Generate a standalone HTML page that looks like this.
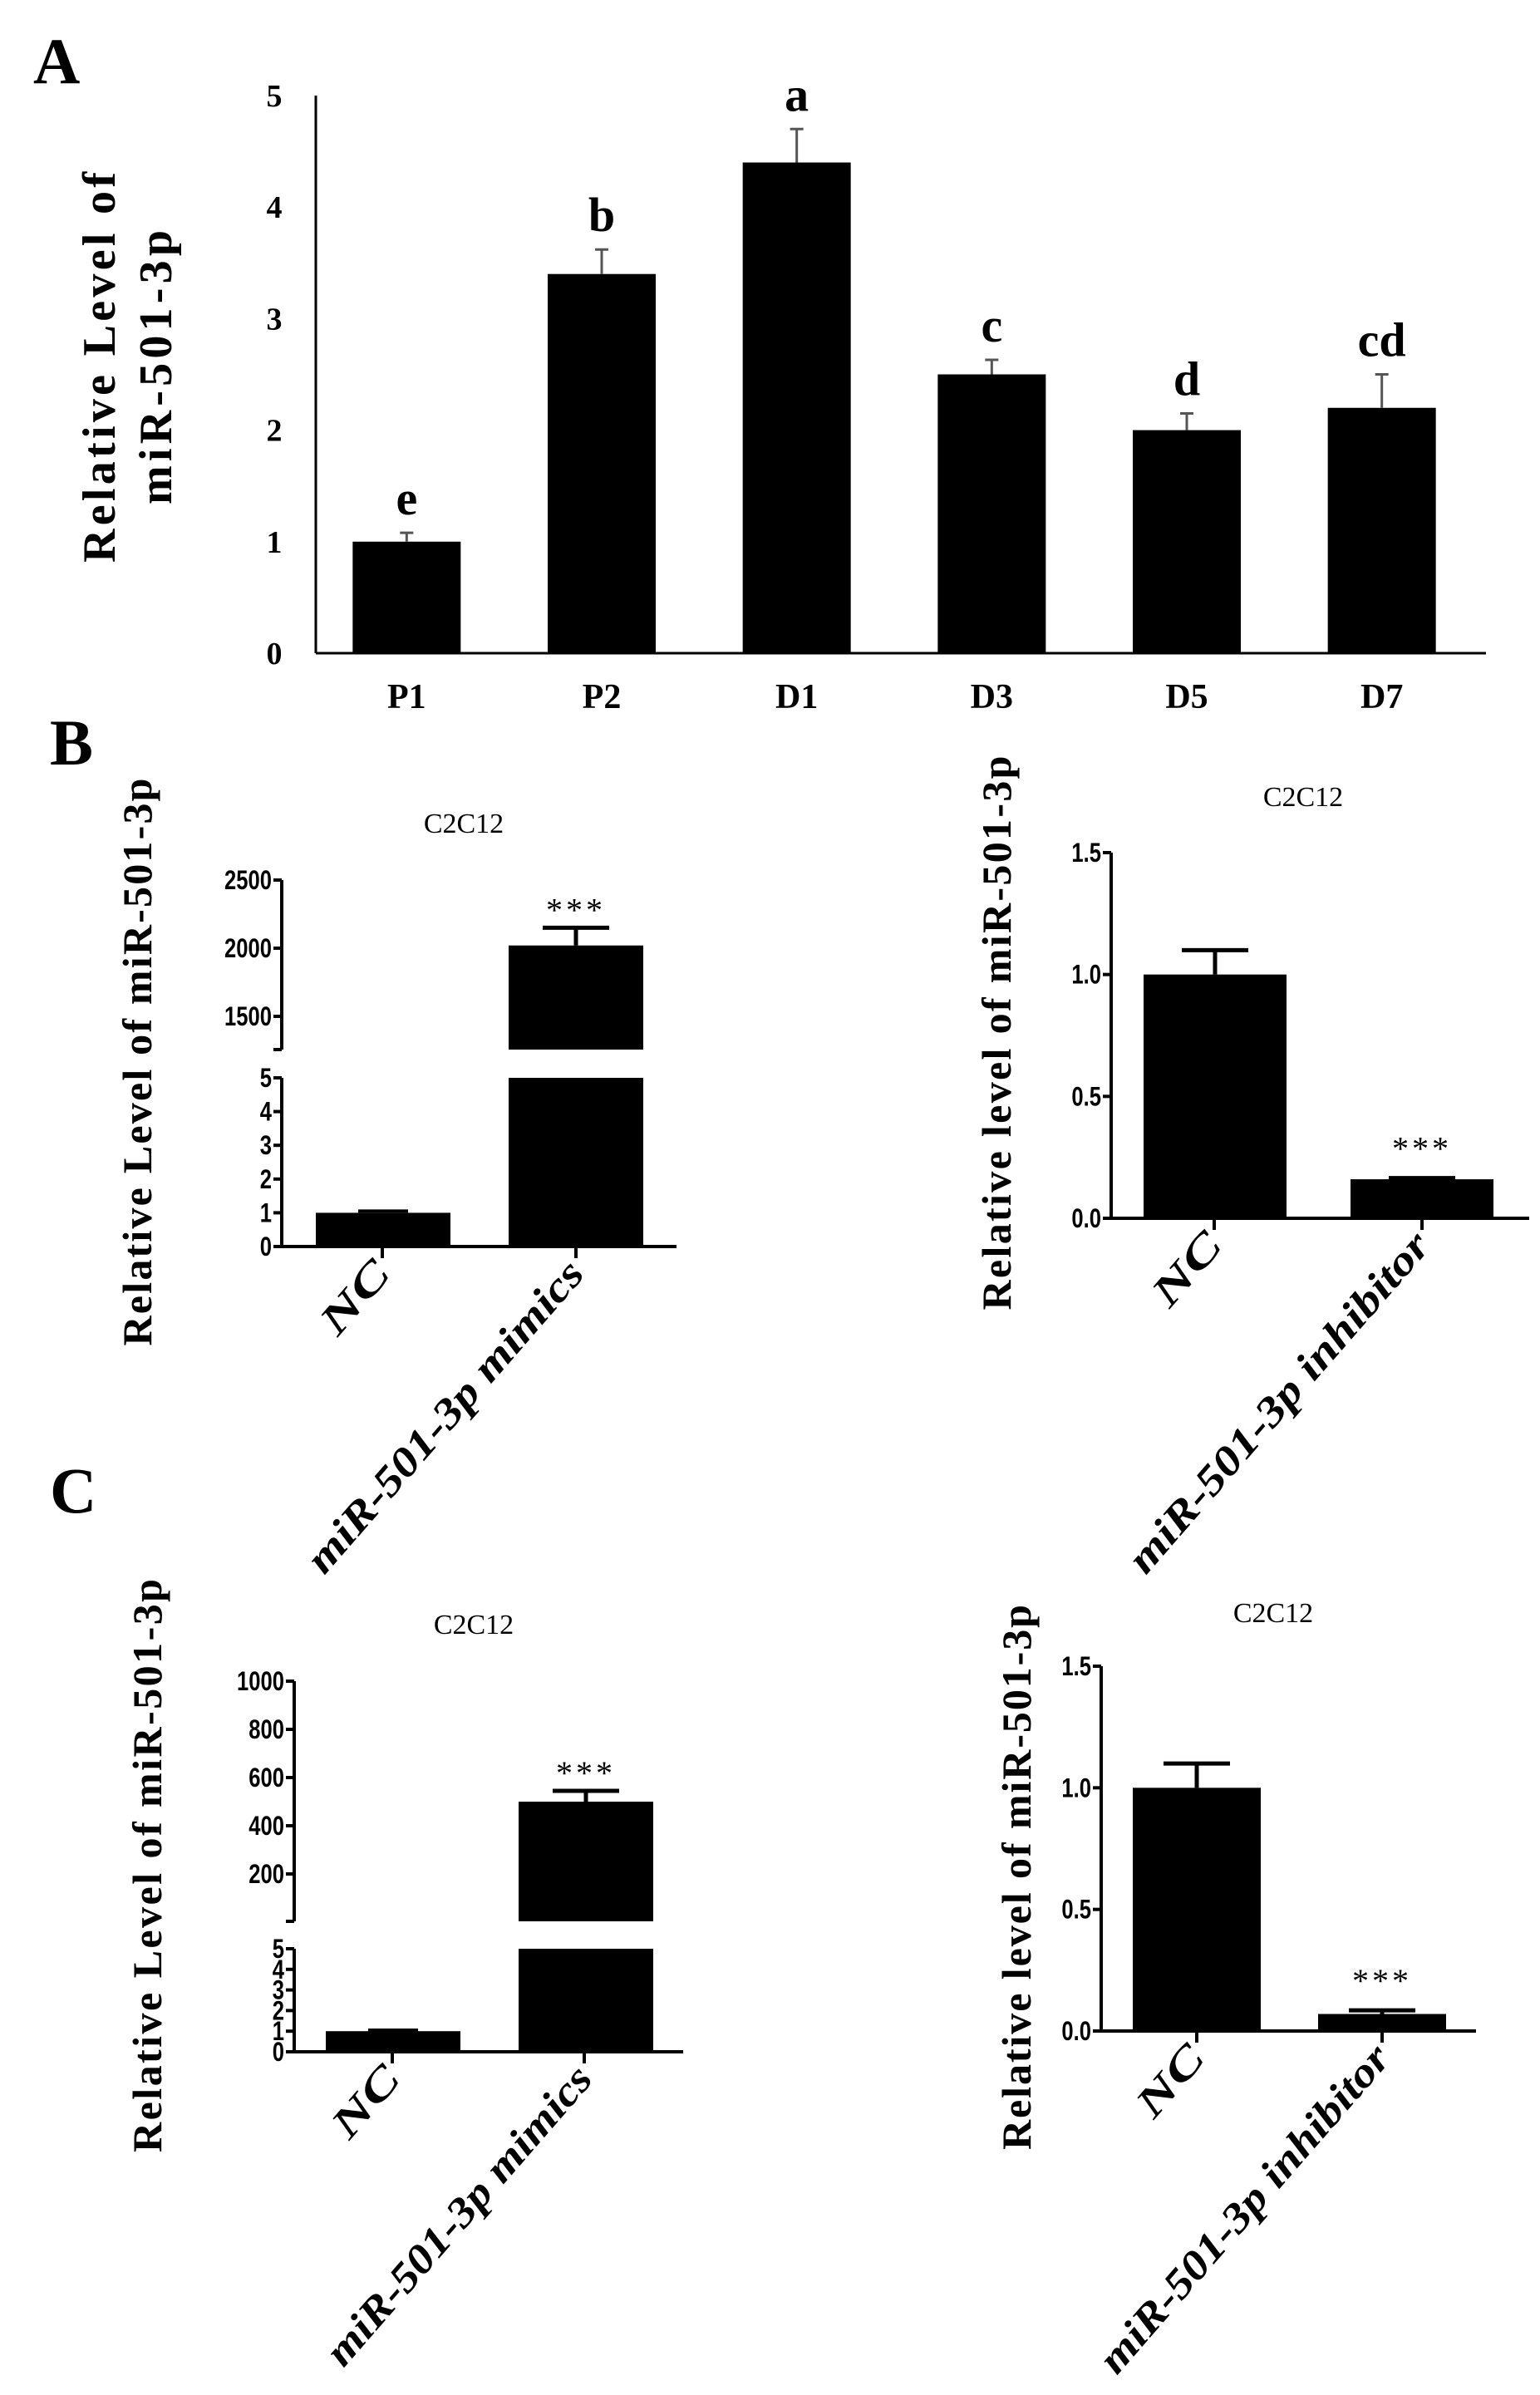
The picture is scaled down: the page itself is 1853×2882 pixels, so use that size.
<!DOCTYPE html>
<html><head><meta charset="utf-8">
<style>
html,body{margin:0;padding:0;background:#fff;}
svg{display:block;}
</style></head>
<body>
<svg id="fig" width="1853" height="2882" viewBox="0 0 1853 2882" xmlns="http://www.w3.org/2000/svg">
<rect width="1853" height="2882" fill="#fff"/>
<text x="40" y="100" font-family="Liberation Serif, serif" font-weight="bold" font-size="78">A</text>
<text x="60" y="920" font-family="Liberation Serif, serif" font-weight="bold" font-size="78">B</text>
<text x="60" y="1820" font-family="Liberation Serif, serif" font-weight="bold" font-size="78">C</text>
<g id="gA"></g>
<g id="gB1"></g>
<g id="gB2"></g>
<g id="gC1"></g>
<g id="gC2"></g>
</svg>
<script>
// Panel A data
const aCategories = ["P1","P2","D1","D3","D5","D7"];
const aValues = [1.0, 3.4, 4.4, 2.5, 2.0, 2.2];
const aErrors = [0.08, 0.22, 0.3, 0.13, 0.15, 0.3];
const aLetters = ["e","b","a","c","d","cd"];
const aTicks = [0,1,2,3,4,5];
// Panel B mimics
const b1Categories = ["NC","miR-501-3p mimics"];
const b1Values = [1.0, 2020];
const b1Errors = [0.05, 130];
const b1LowTicks = [0,1,2,3,4,5];
const b1HighTicks = [1500,2000,2500];
// Panel B inhibitor
const b2Categories = ["NC","miR-501-3p inhibitor"];
const b2Values = [1.0, 0.16];
const b2Errors = [0.1, 0.005];
const b2Ticks = ["0.0","0.5","1.0","1.5"];
// Panel C mimics
const c1Categories = ["NC","miR-501-3p mimics"];
const c1Values = [1.0, 500];
const c1Errors = [0.05, 45];
const c1LowTicks = [0,1,2,3,4,5];
const c1HighTicks = [200,400,600,800,1000];
// Panel C inhibitor
const c2Categories = ["NC","miR-501-3p inhibitor"];
const c2Values = [1.0, 0.07];
const c2Errors = [0.1, 0.015];
const c2Ticks = ["0.0","0.5","1.0","1.5"];

const NS="http://www.w3.org/2000/svg";
function mk(parent, tag, attrs, txt){
  const e=document.createElementNS(NS,tag);
  for(const k in attrs) e.setAttribute(k,attrs[k]);
  if(txt!==undefined) e.textContent=txt;
  parent.appendChild(e); return e;
}
const SERIF="Liberation Serif, serif", SANS="Liberation Sans, sans-serif";

// ---- Panel A ----
(function(){
  const g=document.getElementById('gA');
  const x0=380, xEnd=1788, y0=786, yTop=115, ymax=5;
  const y=v=>y0-(v/ymax)*(y0-yTop);
  const bw=(1788-380)/6, barW=130;
  let e=mk(g,'line',{x1:x0,y1:yTop,x2:x0,y2:y0,stroke:'#000','stroke-width':3});
   
  e=mk(g,'line',{x1:x0,y1:y0,x2:xEnd,y2:y0,stroke:'#000','stroke-width':3});
   
  aTicks.forEach(t=>{
    e=mk(g,'text',{x:330,y:y(t)+13,'text-anchor':'middle','font-family':SERIF,'font-weight':'bold','font-size':38},String(t));
     
  });
  aCategories.forEach((c,i)=>{
    const cx=x0+bw*(i+0.5)-8;
    e=mk(g,'rect',{x:cx-barW/2,y:y(aValues[i]),width:barW,height:y0-y(aValues[i]),fill:'#000'});
     
    const et=y(aValues[i]+aErrors[i]);
    e=mk(g,'path',{d:`M${cx} ${y(aValues[i])}V${et}M${cx-8} ${et}H${cx+8}`,stroke:'#555','stroke-width':3,fill:'none'});
     
    e=mk(g,'text',{x:cx,y:et-22,'text-anchor':'middle','font-family':SERIF,'font-weight':'bold','font-size':58},aLetters[i]);
     
    e=mk(g,'text',{x:cx,y:852,'text-anchor':'middle','font-family':SERIF,'font-weight':'bold','font-size':42},c);
     
  });
  const t=mk(g,'text',{transform:'translate(138,442) rotate(-90)','text-anchor':'middle','font-family':SERIF,'font-weight':'bold','font-size':56,textLength:470,lengthAdjust:'spacing'},'Relative Level of');
   
  const t2=mk(g,'text',{transform:'translate(206,442) rotate(-90)','text-anchor':'middle','font-family':SERIF,'font-weight':'bold','font-size':56,textLength:330,lengthAdjust:'spacing'},'miR-501-3p');
   
})();

function common(g, o){
  let e=mk(g,'text',{x:o.titleX,y:o.titleY,'text-anchor':'middle','font-family':SERIF,'font-size':34},'C2C12');
   
  e=mk(g,'text',{transform:`translate(${o.ytX},${o.ytY}) rotate(-90)`,'text-anchor':'middle','font-family':SERIF,'font-weight':'bold','font-size':50,textLength:o.ytLen,lengthAdjust:'spacing'},o.ytText);
   
  e=mk(g,'line',{x1:o.x0,y1:o.base,x2:o.xEnd,y2:o.base,stroke:'#000','stroke-width':4});
   
  o.cats.forEach((c,i)=>{
    const tx=o.tickX[i];
    e=mk(g,'line',{x1:tx,y1:o.base,x2:tx,y2:o.base+14,stroke:'#000','stroke-width':4});
     
    e=mk(g,'text',{transform:`translate(${tx+12},${o.base+34}) rotate(-49)`,'text-anchor':'end','font-family':SERIF,'font-weight':'bold','font-style':'italic','font-size':50,textLength:o.labLen[i],lengthAdjust:'spacingAndGlyphs'},c);
     
  });
}
function tickLabel(g,x,yy,txt){
  let e=mk(g,'line',{x1:x-10,y1:yy,x2:x,y2:yy,stroke:'#000','stroke-width':4});
   
  e=mk(g,'text',{x:x-12,y:yy+11,'text-anchor':'end','font-family':SANS,'font-weight':'bold','font-size':32,transform:`translate(${(x-12)*0.2},0) scale(0.8,1)`},txt);
   
}
function stars(g,cx,yy){
  const e=mk(g,'text',{x:cx,y:yy,'text-anchor':'middle','font-family':SERIF,'font-size':40,'letter-spacing':4},'***');
   
}

function brokenChart(id,o,cats,vals,errs,lowT,highT){
  const g=document.getElementById(id);
  const yl=v=>o.base-(v/5)*(o.base-o.low5);
  const yh=v=>o.hiRefY-(v-o.hiRef)*o.hiScale;
  let e=mk(g,'line',{x1:o.x0,y1:o.low5,x2:o.x0,y2:o.base,stroke:'#000','stroke-width':4});
   
  e=mk(g,'line',{x1:o.x0,y1:yh(highT[highT.length-1]),x2:o.x0,y2:o.hiBottom,stroke:'#000','stroke-width':4});
   
  e=mk(g,'line',{x1:o.x0-10,y1:o.hiBottom,x2:o.x0,y2:o.hiBottom,stroke:'#000','stroke-width':4});
   
  lowT.forEach(t=>tickLabel(g,o.x0,yl(t),String(t)));
  highT.forEach(t=>tickLabel(g,o.x0,yh(t),String(t)));
  cats.forEach((c,i)=>{
    const L=o.barX[i], R=L+o.barW, cx=(L+R)/2, v=vals[i];
    if(v<=5){
      e=mk(g,'rect',{x:L,y:yl(v),width:o.barW,height:o.base-yl(v),fill:'#000'});
       
      const et=yl(v+errs[i]);
      e=mk(g,'path',{d:`M${cx} ${yl(v)}V${et}M${cx-30} ${et}H${cx+30}`,stroke:'#000','stroke-width':4});
       
    } else {
      e=mk(g,'rect',{x:L,y:o.low5,width:o.barW,height:o.base-o.low5,fill:'#000'});
       
      e=mk(g,'rect',{x:L,y:yh(v),width:o.barW,height:o.hiBottom-yh(v),fill:'#000'});
       
      const et=yh(v+errs[i]);
      e=mk(g,'path',{d:`M${cx} ${yh(v)}V${et}M${cx-40} ${et}H${cx+40}`,stroke:'#000','stroke-width':5});
       
      stars(g,cx,et-8);
    }
  });
  common(g,o);
}
function simpleChart(id,o,cats,vals,errs,ticks){
  const g=document.getElementById(id);
  const y=v=>o.base-(v/1.5)*(o.base-o.top);
  let e=mk(g,'line',{x1:o.x0,y1:o.top,x2:o.x0,y2:o.base,stroke:'#000','stroke-width':4});
   
  ticks.forEach(t=>tickLabel(g,o.x0,y(parseFloat(t)),t));
  cats.forEach((c,i)=>{
    const L=o.barX[i], cx=L+o.barW/2, v=vals[i];
    e=mk(g,'rect',{x:L,y:y(v),width:o.barW,height:o.base-y(v),fill:'#000'});
     
    const et=y(v+errs[i]);
    e=mk(g,'path',{d:`M${cx} ${y(v)}V${et}M${cx-40} ${et}H${cx+40}`,stroke:'#000','stroke-width':5});
     
    if(i===1) stars(g,cx,et-22);
  });
  common(g,o);
}

brokenChart('gB1',{x0:339,xEnd:814,base:1500,low5:1297,hiRef:2000,hiRefY:1141,hiScale:82/500,hiBottom:1263,
  barX:[380,612],barW:162,tickX:[460,693],titleX:558,titleY:1002,ytX:182,ytY:1278,ytLen:683,ytText:'Relative Level of miR-501-3p',
  cats:b1Categories,labLen:[100,480]},b1Categories,b1Values,b1Errors,b1LowTicks,b1HighTicks);
simpleChart('gB2',{x0:1337,xEnd:1840,base:1466,top:1026,barX:[1376,1625],barW:172,tickX:[1461,1711],
  titleX:1568,titleY:970,ytX:1216,ytY:1243,ytLen:667,ytText:'Relative level of  miR-501-3p',
  cats:b2Categories,labLen:[100,525]},b2Categories,b2Values,b2Errors,b2Ticks);
brokenChart('gC1',{x0:354,xEnd:822,base:2469,low5:2345,hiRef:400,hiRefY:2197,hiScale:58/200,hiBottom:2312,
  barX:[392,624],barW:162,tickX:[472,703],titleX:570,titleY:1966,ytX:194,ytY:2245,ytLen:690,ytText:'Relative Level of miR-501-3p',
  cats:c1Categories,labLen:[97,460]},c1Categories,c1Values,c1Errors,c1LowTicks,c1HighTicks);
simpleChart('gC2',{x0:1325,xEnd:1776,base:2444,top:2005,barX:[1363,1586],barW:154,tickX:[1440,1663],
  titleX:1532,titleY:1952,ytX:1240,ytY:2259,ytLen:656,ytText:'Relative level of miR-501-3p',
  cats:c2Categories,labLen:[97,505]},c2Categories,c2Values,c2Errors,c2Ticks);
</script>
</body></html>
